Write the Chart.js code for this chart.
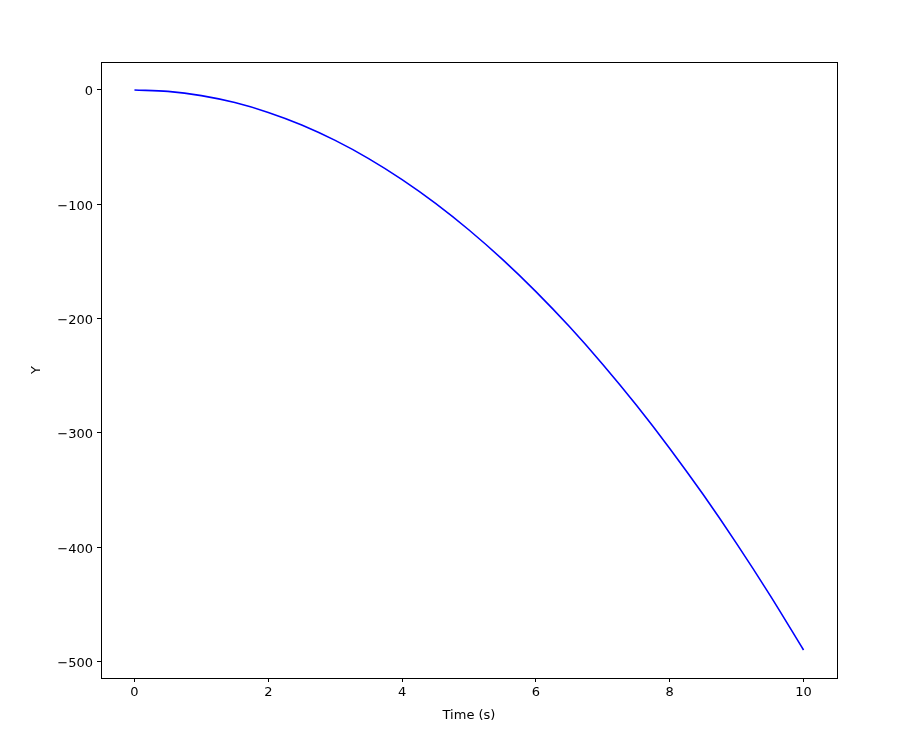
<!DOCTYPE html>
<html>
<head>
<meta charset="utf-8">
<script src="https://cdn.jsdelivr.net/npm/chart.js@4"></script>
<style>
html, body { margin: 0; padding: 0; background: #fff; }
canvas { display: block; }
</style>
</head>
<body>
<canvas id="fallChart" width="898" height="738"></canvas>
<script>
// Time samples (s) and position
let timeData = [0, 0.5, 1, 1.5, 2, 2.5, 3, 3.5, 4, 4.5, 5, 5.5, 6, 6.5, 7, 7.5, 8, 8.5, 9, 9.5, 10];
let yData = [0, -1.2, -4.9, -11, -19.6, -30.6, -44.1, -60, -78.4, -99.2, -122.5, -148.2, -176.4, -207, -240.1, -275.6, -313.6, -354, -396.9, -442.2, -490];

// Tick labels
let xTicks = [0, 2, 4, 6, 8, 10];
let yTicks = [0, -100, -200, -300, -400, -500];

const FONT = { family: "'DejaVu Sans', sans-serif", size: 13 };

// draws the full frame around the plot area
const frame = {
  id: 'frame',
  afterDraw(chart) {
    const a = chart.chartArea;
    const ctx = chart.ctx;
    ctx.save();
    ctx.strokeStyle = '#000';
    ctx.lineWidth = 1;
    ctx.strokeRect(Math.round(a.left) + 0.5, Math.round(a.top) + 0.5,
      Math.round(a.right - a.left), Math.round(a.bottom - a.top));
    ctx.restore();
  }
};

const fallChart = new Chart(
document.getElementById("fallChart"),
{
type: 'line',
data: {
datasets: [{
data: timeData.map((t, i) => ({ x: t, y: yData[i] })),
borderColor: "#0000ff",
borderWidth: 1.6,
pointRadius: 0,
fill: false,
cubicInterpolationMode: 'monotone'
}]
},
options: {
responsive: false,
animation: false,
layout: { padding: { top: 62, right: 61, left: 0, bottom: 0 } },
plugins: { legend: { display: false }, tooltip: { enabled: false } },
scales: {
x: {
type: 'linear',
min: -0.5,
max: 10.5,
afterBuildTicks: s => { s.ticks = xTicks.map(v => ({ value: v })); },
afterFit: s => { s.height = 60; },
grid: { drawOnChartArea: false, color: '#000', tickLength: 4 },
border: { color: '#000' },
ticks: { color: '#000', font: FONT, padding: 3, maxRotation: 0 },
title: { display: true, text: 'Time (s)', color: '#000', font: FONT, padding: { top: 4, bottom: 15 } }
},
y: {
type: 'linear',
min: -514.5,
max: 24.5,
afterBuildTicks: s => { s.ticks = yTicks.map(v => ({ value: v })); },
afterFit: s => { s.width = 101; },
grid: { drawOnChartArea: false, color: '#000', tickLength: 4 },
border: { color: '#000' },
ticks: { color: '#000', font: FONT, padding: 4, labelOffset: 2,
callback: v => String(v).replace('-', '\u2212') },
title: { display: true, text: 'Y', color: '#000', font: FONT, padding: { top: 29, bottom: 4 } }
}
}
},
plugins: [frame]
});
</script>
</body>
</html>
